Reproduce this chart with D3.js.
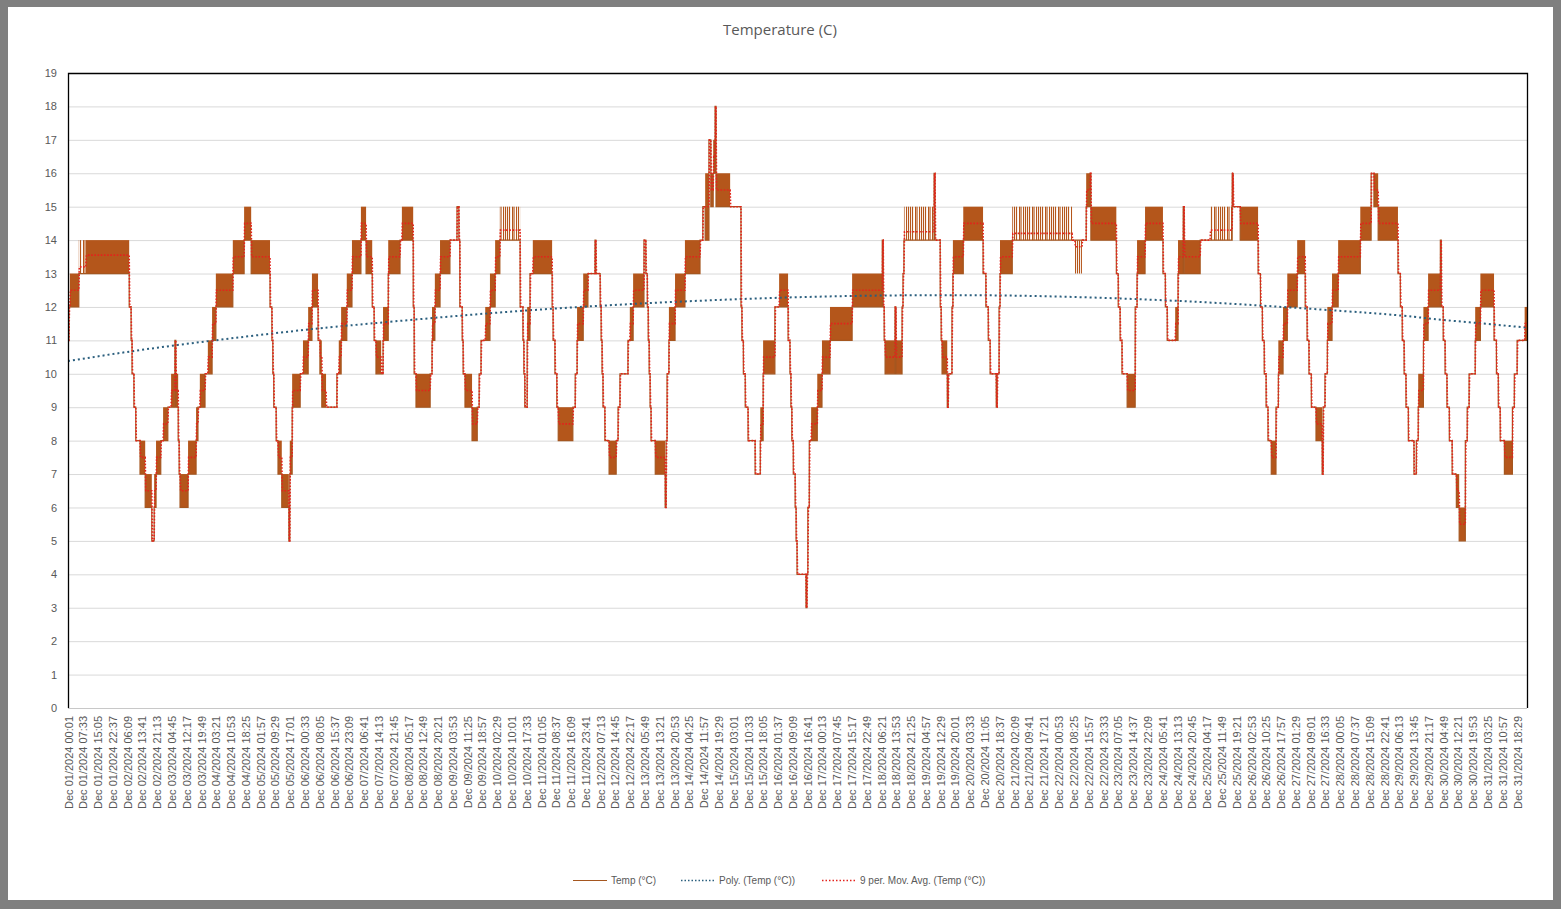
<!DOCTYPE html>
<html><head><meta charset="utf-8">
<script src="https://cdn.jsdelivr.net/npm/d3@7"></script>
<style>body{margin:0;background:#fff}svg{display:block}</style>
</head><body>
<svg id="chart" width="1561" height="909"></svg>
<script>
const chartTitle = "Temperature (C)";
const yTicks = [0,1,2,3,4,5,6,7,8,9,10,11,12,13,14,15,16,17,18,19];
const xLabels = [
"Dec 01/2024 00:01","Dec 01/2024 07:33","Dec 01/2024 15:05","Dec 01/2024 22:37","Dec 02/2024 06:09","Dec 02/2024 13:41","Dec 02/2024 21:13","Dec 03/2024 04:45","Dec 03/2024 12:17","Dec 03/2024 19:49",
"Dec 04/2024 03:21","Dec 04/2024 10:53","Dec 04/2024 18:25","Dec 05/2024 01:57","Dec 05/2024 09:29","Dec 05/2024 17:01","Dec 06/2024 00:33","Dec 06/2024 08:05","Dec 06/2024 15:37","Dec 06/2024 23:09",
"Dec 07/2024 06:41","Dec 07/2024 14:13","Dec 07/2024 21:45","Dec 08/2024 05:17","Dec 08/2024 12:49","Dec 08/2024 20:21","Dec 09/2024 03:53","Dec 09/2024 11:25","Dec 09/2024 18:57","Dec 10/2024 02:29",
"Dec 10/2024 10:01","Dec 10/2024 17:33","Dec 11/2024 01:05","Dec 11/2024 08:37","Dec 11/2024 16:09","Dec 11/2024 23:41","Dec 12/2024 07:13","Dec 12/2024 14:45","Dec 12/2024 22:17","Dec 13/2024 05:49",
"Dec 13/2024 13:21","Dec 13/2024 20:53","Dec 14/2024 04:25","Dec 14/2024 11:57","Dec 14/2024 19:29","Dec 15/2024 03:01","Dec 15/2024 10:33","Dec 15/2024 18:05","Dec 16/2024 01:37","Dec 16/2024 09:09",
"Dec 16/2024 16:41","Dec 17/2024 00:13","Dec 17/2024 07:45","Dec 17/2024 15:17","Dec 17/2024 22:49","Dec 18/2024 06:21","Dec 18/2024 13:53","Dec 18/2024 21:25","Dec 19/2024 04:57","Dec 19/2024 12:29",
"Dec 19/2024 20:01","Dec 20/2024 03:33","Dec 20/2024 11:05","Dec 20/2024 18:37","Dec 21/2024 02:09","Dec 21/2024 09:41","Dec 21/2024 17:21","Dec 22/2024 00:53","Dec 22/2024 08:25","Dec 22/2024 15:57",
"Dec 22/2024 23:33","Dec 23/2024 07:05","Dec 23/2024 14:37","Dec 23/2024 22:09","Dec 24/2024 05:41","Dec 24/2024 13:13","Dec 24/2024 20:45","Dec 25/2024 04:17","Dec 25/2024 11:49","Dec 25/2024 19:21",
"Dec 26/2024 02:53","Dec 26/2024 10:25","Dec 26/2024 17:57","Dec 27/2024 01:29","Dec 27/2024 09:01","Dec 27/2024 16:33","Dec 28/2024 00:05","Dec 28/2024 07:37","Dec 28/2024 15:09","Dec 28/2024 22:41",
"Dec 29/2024 06:13","Dec 29/2024 13:45","Dec 29/2024 21:17","Dec 30/2024 04:49","Dec 30/2024 12:21","Dec 30/2024 19:53","Dec 31/2024 03:25","Dec 31/2024 10:57","Dec 31/2024 18:29"
];
// Temperature readings: [day of December (fractional), low, high, share of readings at high]
// low<high = reading flickering between the two values
const tempSteps = [
[1.00,11,11],[1.02,12,12],[1.04,12,13],[1.23,13,14,0.2],[1.38,13,14,0.55],[2.30,12,12],[2.34,11,11],[2.36,10,10],[2.40,9,9],[2.44,8,8],
[2.53,7,8],[2.64,6,7],[2.78,5,5],[2.83,6,7],[2.87,7,8],[2.97,8,8],[3.02,8,9],[3.12,9,9],[3.19,9,10],[3.27,11,11],
[3.29,9,10],[3.34,8,8],[3.36,7,7],[3.38,6,7],[3.55,7,8],[3.72,8,9],[3.76,9,9],[3.80,9,10],[3.91,10,10],[3.97,10,11],
[4.06,11,12],[4.14,12,13],[4.50,13,14],[4.74,14,15],[4.89,13,14],[5.29,12,12],[5.33,11,11],[5.35,10,10],[5.37,9,9],
[5.42,8,8],[5.46,7,8],[5.54,6,7],[5.69,5,5],[5.71,7,8],[5.76,9,10],[5.93,10,10],[5.99,10,11],[6.10,11,12],[6.18,12,13],
[6.31,11,11],[6.35,10,11],[6.39,9,10],[6.48,9,9],[6.71,10,10],[6.75,10,11],[6.80,11,12],[6.92,12,13],[7.03,13,14],
[7.22,14,15],[7.33,13,14],[7.46,12,12],[7.50,11,11],[7.54,10,11],[7.65,10,10],[7.69,11,12],[7.80,13,14],[8.05,14,14],
[8.09,14,15],[8.33,12,12],[8.35,10,10],[8.39,9,10],[8.69,10,10],[8.73,11,12],[8.79,12,13],[8.90,13,14],[9.11,14,14],
[9.26,15,15],[9.30,14,14],[9.32,12,12],[9.37,11,11],[9.39,10,10],[9.43,9,10],[9.58,8,9],[9.69,9,9],[9.73,10,10],
[9.77,11,11],[9.86,11,12],[9.96,12,13],[10.07,13,14],[10.17,14,15,0.3],[10.60,12,12],[10.66,11,11],[10.68,10,10],
[10.70,9,9],[10.75,11,12],[10.81,13,13],[10.87,13,14],[11.28,12,12],[11.30,11,11],[11.34,10,10],[11.38,9,9],
[11.41,8,9],[11.72,9,9],[11.77,10,10],[11.81,11,12],[11.94,12,13],[12.04,13,13],[12.19,14,14],[12.21,13,13],
[12.30,12,12],[12.32,11,11],[12.34,10,10],[12.36,9,9],[12.40,8,8],[12.49,7,8],[12.64,8,8],[12.68,9,9],[12.72,10,10],
[12.89,11,11],[12.93,11,12],[13.00,12,13],[13.23,14,14],[13.27,13,13],[13.30,12,12],[13.32,11,11],[13.34,10,10],
[13.36,9,9],[13.38,8,8],[13.47,7,8],[13.68,6,6],[13.70,8,8],[13.72,10,10],[13.76,11,12],[13.89,12,13],[14.10,13,14],
[14.42,14,14],[14.48,15,15],[14.53,14,16],[14.61,17,17],[14.65,15,16],[14.70,16,17],[14.74,18,18],[14.76,15,16],
[15.06,15,15],[15.29,12,12],[15.31,11,11],[15.34,10,10],[15.38,9,9],[15.44,8,8],[15.59,7,7],[15.70,8,9],[15.76,10,11],
[16.01,12,12],[16.10,12,13],[16.29,11,11],[16.33,10,10],[16.35,9,9],[16.37,8,8],[16.40,7,7],[16.44,6,6],[16.46,5,5],
[16.48,4,4],[16.52,4,4],[16.67,3,3],[16.69,4,4],[16.71,6,6],[16.74,8,8],[16.78,8,9],[16.91,9,10],[17.01,10,11],
[17.18,11,12],[17.65,12,13],[18.29,14,14],[18.31,12,12],[18.33,11,11],[18.35,10,11],[18.56,12,12],[18.58,10,11],
[18.71,12,12],[18.73,13,13],[18.75,14,15,0.25],[19.39,16,16],[19.41,14,14],[19.52,12,12],[19.54,11,11],[19.56,10,11],
[19.67,9,9],[19.69,10,10],[19.77,12,12],[19.79,13,14],[20.01,14,15],[20.43,13,13],[20.49,12,12],[20.54,11,11],
[20.58,10,10],[20.71,9,9],[20.73,10,10],[20.77,12,12],[20.79,13,14],[21.05,14,15,0.2],[22.32,14,14],[22.38,13,14,0.8],
[22.53,14,14],[22.62,15,16],[22.70,16,16],[22.72,14,15],[23.26,13,13],[23.30,12,12],[23.34,11,11],[23.38,10,10],
[23.49,9,10],[23.66,12,12],[23.70,13,14],[23.87,14,15],[24.25,13,13],[24.30,12,12],[24.34,11,11],[24.51,11,12],
[24.57,13,14],[24.68,15,15],[24.70,13,14],[25.04,14,14],[25.25,14,15,0.3],[25.72,16,16],[25.74,15,15],[25.89,14,15],
[26.27,13,13],[26.32,12,12],[26.36,11,11],[26.40,10,10],[26.44,9,9],[26.48,8,8],[26.55,7,8],[26.65,9,9],[26.70,10,11],
[26.80,11,12],[26.89,12,13],[27.10,13,14],[27.27,12,12],[27.31,11,11],[27.35,10,10],[27.40,9,9],[27.50,8,9],
[27.63,7,7],[27.65,9,9],[27.69,10,10],[27.74,11,12],[27.84,12,13],[27.97,13,14],[28.44,14,15],[28.67,16,16],
[28.73,15,16],[28.82,14,15],[29.24,13,13],[29.29,12,12],[29.33,11,11],[29.37,10,10],[29.41,9,9],[29.46,8,8],
[29.58,7,7],[29.63,8,8],[29.67,9,10],[29.78,11,12],[29.88,12,13],[30.14,14,14],[30.16,12,12],[30.20,11,11],
[30.24,10,10],[30.28,9,9],[30.33,8,8],[30.39,7,7],[30.48,6,7],[30.54,5,6],[30.67,8,8],[30.71,9,9],[30.75,10,10],
[30.88,11,12],[30.99,12,13],[31.28,11,11],[31.33,10,10],[31.37,9,9],[31.41,8,8],[31.50,7,8],[31.67,9,9],[31.71,10,10],
[31.77,11,11],[31.93,11,12]
];
const tempEndDay = 31.98;
// Polynomial trendline
const polyDays   = [1.0, 2.0, 3.0, 4.0, 5.0, 6.0, 7.0, 9.0, 11.0, 13.0, 15.0, 17.0, 19.0, 21.0, 23.0, 25.0, 27.0, 29.0, 30.0, 31.0, 31.98];
const polyValues = [10.38,10.60,10.80,10.98,11.15,11.31,11.45,11.70,11.92,12.09,12.22,12.31,12.35,12.34,12.27,12.15,11.98,11.78,11.64,11.51,11.38];

const legendItems = ["Temp (°C)", "Poly. (Temp (°C))", "9 per. Mov. Avg. (Temp (°C))"];

const W = 1561, H = 909;
const M = {left: 68, right: 1527, top: 73, bottom: 708};
const COL_TEMP = "#a5561f", COL_BAND = "#b4561b", COL_MA = "#e3231c", COL_POLY = "#2b5f7e", TXT = "#595959";

function labelDay(s) {
  const m = s.match(/Dec (\d+)\/2024 (\d+):(\d+)/);
  return +m[1] + (+m[2]) / 24 + (+m[3]) / 1440;
}
const firstDay = labelDay(xLabels[0]);
const x = d3.scaleLinear().domain([firstDay, tempEndDay]).range([M.left, M.right]);
const y = d3.scaleLinear().domain([0, 19]).range([M.bottom, M.top]);

const svg = d3.select("#chart");
svg.append("rect").attr("width", W).attr("height", H).attr("fill", "#7f7f7f");
svg.append("rect").attr("x", 8).attr("y", 7).attr("width", 1545).attr("height", 893).attr("fill", "#fff");

const defs = svg.append("defs");
// hatch used where the reading only occasionally flips to the other value
const pat = defs.append("pattern").attr("id", "flick").attr("patternUnits", "userSpaceOnUse")
  .attr("width", 13).attr("height", 10);
[0, 2, 5, 6.5, 9, 11].forEach(px => pat.append("rect").attr("x", px).attr("y", 0)
  .attr("width", 1.1).attr("height", 10).attr("fill", COL_BAND));
defs.append("clipPath").attr("id", "clip").append("rect")
  .attr("x", M.left).attr("y", M.top).attr("width", M.right - M.left).attr("height", M.bottom - M.top);

svg.append("text").attr("x", 780).attr("y", 35).attr("text-anchor", "middle")
  .attr("font-family", "Open Sans, Liberation Sans, sans-serif").attr("font-size", 15).attr("fill", TXT)
  .text(chartTitle);

// gridlines
svg.append("g").selectAll("line").data(yTicks.filter(v => v > 0 && v < 19)).join("line")
  .attr("x1", M.left).attr("x2", M.right).attr("y1", d => y(d) + 0.5).attr("y2", d => y(d) + 0.5)
  .attr("stroke", "#d9d9d9").attr("stroke-width", 1);

// y axis labels
const yAxis = d3.axisLeft(y).tickValues(yTicks).tickSize(0).tickPadding(11).tickFormat(d3.format("d"));
const gy = svg.append("g").attr("transform", `translate(${M.left},0)`).call(yAxis);
gy.select(".domain").remove();
gy.selectAll("text").attr("font-family", "Liberation Sans, Arial, sans-serif").attr("font-size", 11).attr("fill", TXT);

// x axis labels
const xAxis = d3.axisBottom(x).tickValues(xLabels.map(labelDay)).tickSize(0)
  .tickFormat((d, i) => xLabels[i]);
const gx = svg.append("g").attr("transform", `translate(0,${M.bottom})`).call(xAxis);
gx.select(".domain").remove();
gx.selectAll("text").attr("font-family", "Liberation Sans, Arial, sans-serif").attr("font-size", 11).attr("fill", TXT)
  .attr("text-anchor", "end").attr("dy", null)
  .attr("transform", "translate(4,8) rotate(-90)").attr("x", 0).attr("y", 0);

// segments
const segs = tempSteps.map((s, i) => ({
  start: s[0], end: i < tempSteps.length - 1 ? tempSteps[i + 1][0] : tempEndDay,
  lo: s[1], hi: s[2], share: s.length > 3 ? s[3] : 0.5
}));

const pg = svg.append("g").attr("clip-path", "url(#clip)");

// flicker bands
pg.selectAll("rect.band").data(segs.filter(s => s.hi > s.lo)).join("rect").attr("class", "band")
  .attr("x", d => x(d.start)).attr("width", d => Math.max(1, x(d.end) - x(d.start)))
  .attr("y", d => y(d.hi)).attr("height", d => y(d.lo) - y(d.hi))
  .attr("fill", d => (d.share < 0.35 || d.share > 0.65) ? "url(#flick)" : COL_BAND);

// temperature step line
const linePts = [];
segs.forEach(s => {
  const base = s.share > 0.65 ? s.hi : s.lo;
  linePts.push([s.start, base]); linePts.push([s.end, base]);
});
pg.append("path").datum(linePts)
  .attr("d", d3.line().x(d => x(d[0])).y(d => y(d[1])))
  .attr("fill", "none").attr("stroke", COL_TEMP).attr("stroke-width", 1.2);

// polynomial trendline
pg.append("path").datum(polyDays.map((d, i) => [d, polyValues[i]]))
  .attr("d", d3.line().x(d => x(d[0])).y(d => y(d[1])).curve(d3.curveNatural))
  .attr("fill", "none").attr("stroke", COL_POLY).attr("stroke-width", 2).attr("stroke-dasharray", "2,3");

// moving average (9 readings ~ 36 min) following the readings
const maPts = [];
segs.forEach(s => {
  const m = s.lo + s.share * (s.hi - s.lo);
  maPts.push([s.start + 0.012, m]); maPts.push([s.end, m]);
});
pg.append("path").datum(maPts)
  .attr("d", d3.line().x(d => x(Math.min(d[0], tempEndDay))).y(d => y(d[1])))
  .attr("fill", "none").attr("stroke", COL_MA).attr("stroke-width", 1.6).attr("stroke-dasharray", "1.6,1.6");

// frame
svg.append("line").attr("x1", M.left).attr("x2", M.right).attr("y1", M.bottom + 0.5).attr("y2", M.bottom + 0.5).attr("stroke", "#c8c8c8");
svg.append("path").attr("d", `M${M.left + 0.5},${M.bottom}V${M.top + 0.5}H${M.right + 0.5}V${M.bottom}`)
  .attr("fill", "none").attr("stroke", "#000").attr("stroke-width", 1.3);

// legend
const lg = svg.append("g").attr("font-family", "Liberation Sans, Arial, sans-serif").attr("font-size", 10).attr("fill", TXT);
const legX = [573, 681, 822];
const legStyle = [{c: COL_TEMP, d: null, w: 1.2}, {c: COL_POLY, d: "1.5,2", w: 1.6}, {c: COL_MA, d: "1.5,2", w: 1.6}];
legendItems.forEach((t, i) => {
  lg.append("line").attr("x1", legX[i]).attr("x2", legX[i] + 34).attr("y1", 880.5).attr("y2", 880.5)
    .attr("stroke", legStyle[i].c).attr("stroke-width", legStyle[i].w).attr("stroke-dasharray", legStyle[i].d);
  lg.append("text").attr("x", legX[i] + 38).attr("y", 884).text(t);
});
</script>
</body></html>
